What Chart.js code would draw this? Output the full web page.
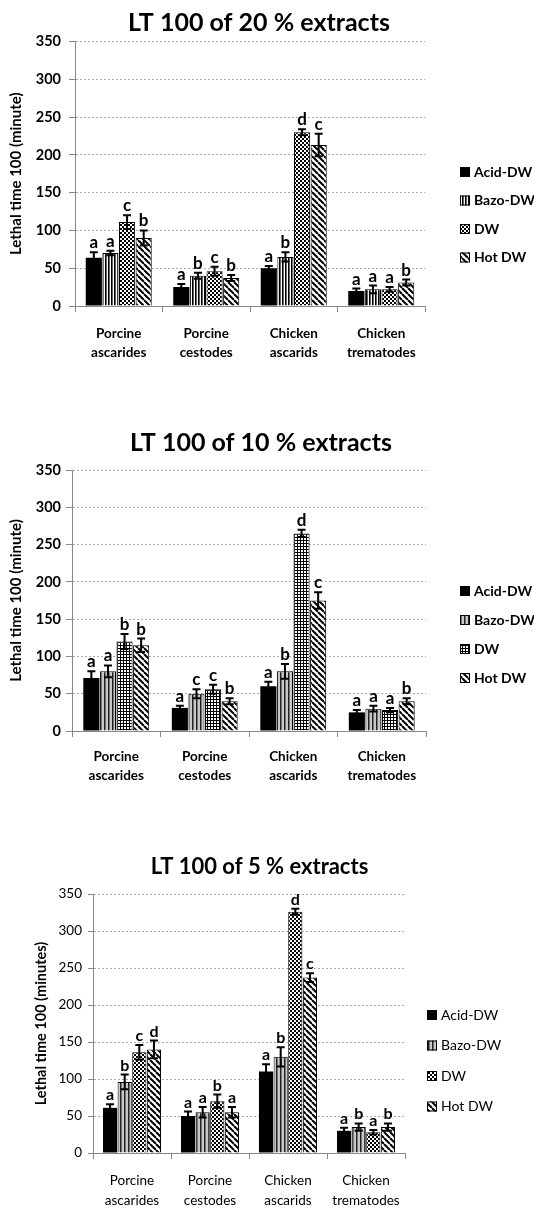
<!DOCTYPE html>
<html>
<head>
<meta charset="utf-8">
<script src="https://cdn.jsdelivr.net/npm/chart.js@4.4.1/dist/chart.umd.min.js"></script>
<style>
html,body{margin:0;padding:0;background:#fff;}
body{width:534px;height:1211px;position:relative;overflow:hidden;}
canvas{position:absolute;left:0;}
</style>
</head>
<body>
<canvas id="c1"></canvas>
<canvas id="c2"></canvas>
<canvas id="c3"></canvas>
<script>
// ---------- data ----------
const categories = [["Porcine","ascarides"],["Porcine","cestodes"],["Chicken","ascarids"],["Chicken","trematodes"]];
const seriesNames = ["Acid-DW","Bazo-DW","DW","Hot DW"];
const yMin = 0, yMax = 350, yStep = 50;

// 20 % extracts
const acid20 = [64, 25, 50, 20];
const bazo20 = [70, 40, 65, 22];
const dw20   = [111, 46, 230, 22];
const hot20  = [90, 37, 213, 31];
const acid20Err = [7, 4, 3, 3];
const bazo20Err = [3, 4, 6, 5];
const dw20Err   = [9, 6, 4, 3];
const hot20Err  = [10, 4, 15, 4];
const acid20Sig = ["a","a","a","a"];
const bazo20Sig = ["a","b","b","a"];
const dw20Sig   = ["c","c","d","a"];
const hot20Sig  = ["b","b","c","b"];

// 10 % extracts
const acid10 = [71, 31, 60, 25];
const bazo10 = [80, 50, 80, 30];
const dw10   = [120, 56, 265, 28];
const hot10  = [115, 40, 175, 40];
const acid10Err = [9, 3, 6, 3];
const bazo10Err = [8, 6, 10, 4];
const dw10Err   = [10, 6, 5, 3];
const hot10Err  = [9, 4, 11, 4];
const acid10Sig = ["a","a","a","a"];
const bazo10Sig = ["a","c","b","a"];
const dw10Sig   = ["b","c","d","a"];
const hot10Sig  = ["b","b","c","b"];

// 5 % extracts
const acid5 = [61, 50, 110, 30];
const bazo5 = [96, 55, 130, 35];
const dw5   = [136, 70, 326, 28];
const hot5  = [140, 55, 237, 35];
const acid5Err = [5, 6, 10, 4];
const bazo5Err = [10, 7, 13, 5];
const dw5Err   = [10, 9, 4, 3];
const hot5Err  = [12, 7, 6, 5];
const acid5Sig = ["a","a","a","a"];
const bazo5Sig = ["b","a","b","b"];
const dw5Sig   = ["c","b","d","a"];
const hot5Sig  = ["d","a","c","b"];

const titles = ["LT 100 of 20 % extracts","LT 100 of 10 % extracts","LT 100 of 5 % extracts"];
const yTitles = ["Lethal time 100 (minute)","Lethal time 100 (minute)","Lethal time 100 (minutes)"];

// ---------- patterns ----------
function makePattern(kind){
  const ctx = document.createElement('canvas').getContext('2d');
  function mk(w,h,d){
    const c=document.createElement('canvas');c.width=w;c.height=h;d(c.getContext('2d'),w,h);
    return ctx.createPattern(c,'repeat');
  }
  switch(kind){
    case 'solid': return '#000';
    case 'vthin': return mk(3,3,(g)=>{g.fillStyle='#fff';g.fillRect(0,0,3,3);g.fillStyle='#000';g.fillRect(0,0,1.6,3);});
    case 'vgrey': return mk(4,4,(g)=>{g.fillStyle='#c8c8c8';g.fillRect(0,0,4,4);g.fillStyle='#222';g.fillRect(0,0,1.5,4);});
    case 'checker': return mk(4,4,(g)=>{g.fillStyle='#fff';g.fillRect(0,0,4,4);g.fillStyle='#000';g.fillRect(0,0,2,2);g.fillRect(2,2,2,2);});
    case 'grid': return mk(3,3,(g)=>{g.fillStyle='#fff';g.fillRect(0,0,3,3);g.fillStyle='#000';g.fillRect(0,0,3,1);g.fillRect(0,0,1,3);});
    case 'diag': return mk(6,6,(g,w,h)=>{g.fillStyle='#fff';g.fillRect(0,0,w,h);g.strokeStyle='#000';g.lineWidth=2;
        for(const k of [-w,0,w]){g.beginPath();g.moveTo(k,0);g.lineTo(k+w,h);g.stroke();}});
  }
}

// ---------- plugins ----------
const errLetterPlugin = {
  id: 'errLetter',
  afterDatasetsDraw(chart, args, opts){
    const {ctx, scales:{y}} = chart;
    ctx.save();
    chart.data.datasets.forEach((ds, di) => {
      const meta = chart.getDatasetMeta(di);
      meta.data.forEach((bar, i) => {
        const v = ds.data[i], e = ds.errors[i];
        const yt = y.getPixelForValue(v + e), yb = y.getPixelForValue(v - e);
        ctx.strokeStyle = '#000'; ctx.lineWidth = 2;
        ctx.beginPath();
        ctx.moveTo(bar.x, yt); ctx.lineTo(bar.x, yb);
        ctx.moveTo(bar.x - 4, yt); ctx.lineTo(bar.x + 4, yt);
        ctx.moveTo(bar.x - 4, yb); ctx.lineTo(bar.x + 4, yb);
        ctx.stroke();
        ctx.fillStyle = '#000';
        ctx.font = opts.font;
        ctx.textAlign = 'center'; ctx.textBaseline = 'alphabetic';
        ctx.fillText(ds.letters[i], bar.x, yt - 4);
      });
    });
    ctx.restore();
  }
};
const sideLegendPlugin = {
  id: 'sideLegend',
  afterDraw(chart, args, opts){
    const {ctx} = chart;
    ctx.save();
    ctx.font = opts.font;
    ctx.textBaseline = 'middle'; ctx.textAlign = 'left';
    chart.data.datasets.forEach((ds, i) => {
      const y = opts.y0 + i * opts.gap;
      ctx.fillStyle = ds.backgroundColor;
      ctx.fillRect(opts.x, y - 5, 10, 10);
      ctx.strokeStyle = '#000'; ctx.lineWidth = 1;
      ctx.strokeRect(opts.x + 0.5, y - 4.5, 9, 9);
      ctx.fillStyle = '#000';
      ctx.fillText(ds.label, opts.x + 14, y);
    });
    ctx.restore();
  }
};
const mainTitlePlugin = {
  id: 'mainTitle',
  afterDraw(chart, args, opts){
    const {ctx} = chart;
    ctx.save();
    ctx.font = opts.font; ctx.fillStyle = '#000';
    ctx.textAlign = 'center'; ctx.textBaseline = 'middle';
    ctx.fillText(opts.text, opts.x, opts.y);
    ctx.restore();
  }
};

Chart.defaults.color = '#000';
Chart.defaults.font.family = 'Lato, "Open Sans", sans-serif';

function build(id, top, height, L){
  const cv = document.getElementById(id);
  cv.style.top = top + 'px';
  cv.width = 534; cv.height = height;
  cv.style.width = '534px'; cv.style.height = height + 'px';
  const datasets = L.series.map((s, i) => ({
    label: seriesNames[i],
    data: s.v, errors: s.e, letters: s.l,
    backgroundColor: makePattern(L.patterns[i]),
    borderColor: '#000', borderWidth: i === 0 ? 0 : 1,
    categoryPercentage: L.catPct, barPercentage: 0.97
  }));
  return new Chart(cv, {
    type: 'bar',
    data: { labels: categories, datasets },
    plugins: [errLetterPlugin, sideLegendPlugin, mainTitlePlugin],
    options: {
      responsive: false, animation: false,
      layout: { padding: { top: L.top, right: 534 - L.right, bottom: L.padB, left: 0 } },
      plugins: {
        legend: { display: false }, tooltip: { enabled: false }, title: { display: false },
        errLetter: { font: L.letterFont },
        sideLegend: { x: L.legX, y0: L.legY0, gap: L.legGap, font: L.legFont },
        mainTitle: { text: L.title, x: L.titleX, y: L.titleY, font: L.titleFont }
      },
      scales: {
        x: {
          afterFit: s => { s.height = L.xh; },
          grid: { display: true, drawOnChartArea: false, offset: true, tickLength: 6, color: '#888' },
          border: { display: true, color: '#888', width: 1 },
          ticks: { font: L.catFont, padding: L.catPad, maxRotation: 0, autoSkip: false }
        },
        y: {
          min: yMin, max: yMax,
          afterFit: s => { s.width = L.left; },
          grid: { color: '#aaa', tickLength: L.yTick, tickColor: '#888', tickBorderDash: [] },
          border: { display: true, color: '#888', width: 1, dash: [2, 2] },
          ticks: { stepSize: yStep, font: L.tickFont, padding: L.yPad },
          title: { display: true, text: L.yTitle, font: L.yTitleFont, padding: { top: L.yTitlePad, bottom: 0 } }
        }
      }
    }
  });
}

build('c1', 0, 380, {
  series: [{v:acid20,e:acid20Err,l:acid20Sig},{v:bazo20,e:bazo20Err,l:bazo20Sig},{v:dw20,e:dw20Err,l:dw20Sig},{v:hot20,e:hot20Err,l:hot20Sig}],
  patterns: ['solid','vthin','checker','diag'], catPct: 0.76,
  top: 41.5, right: 425, left: 75, xh: 60, padB: 14,
  title: titles[0], titleX: 259, titleY: 23, titleFont: 'bold 25px Lato',
  yTitle: yTitles[0], yTitleFont: { size: 15, weight: 'bold', lineHeight: 1.2 }, yTitlePad: 7,
  tickFont: { size: 14.5, weight: 'bold' }, yTick: 6, yPad: 8,
  catFont: { size: 13.5, weight: 'bold', lineHeight: 1.35 }, catPad: 13,
  letterFont: 'bold 17px Lato',
  legX: 460, legY0: 172, legGap: 28.5, legFont: 'bold 14px Lato'
});
build('c2', 390, 400, {
  series: [{v:acid10,e:acid10Err,l:acid10Sig},{v:bazo10,e:bazo10Err,l:bazo10Sig},{v:dw10,e:dw10Err,l:dw10Sig},{v:hot10,e:hot10Err,l:hot10Sig}],
  patterns: ['solid','vgrey','grid','diag'], catPct: 0.75,
  top: 80, right: 426, left: 72, xh: 55, padB: 4,
  title: titles[1], titleX: 261, titleY: 53, titleFont: 'bold 25px Lato',
  yTitle: yTitles[1], yTitleFont: { size: 15, weight: 'bold', lineHeight: 1.2 }, yTitlePad: 7,
  tickFont: { size: 14.5, weight: 'bold' }, yTick: 6, yPad: 5,
  catFont: { size: 13.5, weight: 'bold', lineHeight: 1.35 }, catPad: 11,
  letterFont: 'bold 17px Lato',
  legX: 460, legY0: 201, legGap: 29, legFont: 'bold 14px Lato'
});
build('c3', 820, 391, {
  series: [{v:acid5,e:acid5Err,l:acid5Sig},{v:bazo5,e:bazo5Err,l:bazo5Sig},{v:dw5,e:dw5Err,l:dw5Sig},{v:hot5,e:hot5Err,l:hot5Sig}],
  patterns: ['solid','vgrey','checker','diag'], catPct: 0.75,
  top: 74, right: 405, left: 93, xh: 56, padB: 2,
  title: titles[2], titleX: 259.5, titleY: 47, titleFont: 'bold 22px Lato',
  yTitle: yTitles[2], yTitleFont: { size: 14.5, weight: 'bold', lineHeight: 1.2 }, yTitlePad: 33,
  tickFont: { size: 13.5 }, yTick: 5, yPad: 6,
  catFont: { size: 13.5, lineHeight: 1.45 }, catPad: 12,
  letterFont: 'bold 16px Lato',
  legX: 427, legY0: 195, legGap: 30.5, legFont: '14px Lato'
});
</script>
</body>
</html>
